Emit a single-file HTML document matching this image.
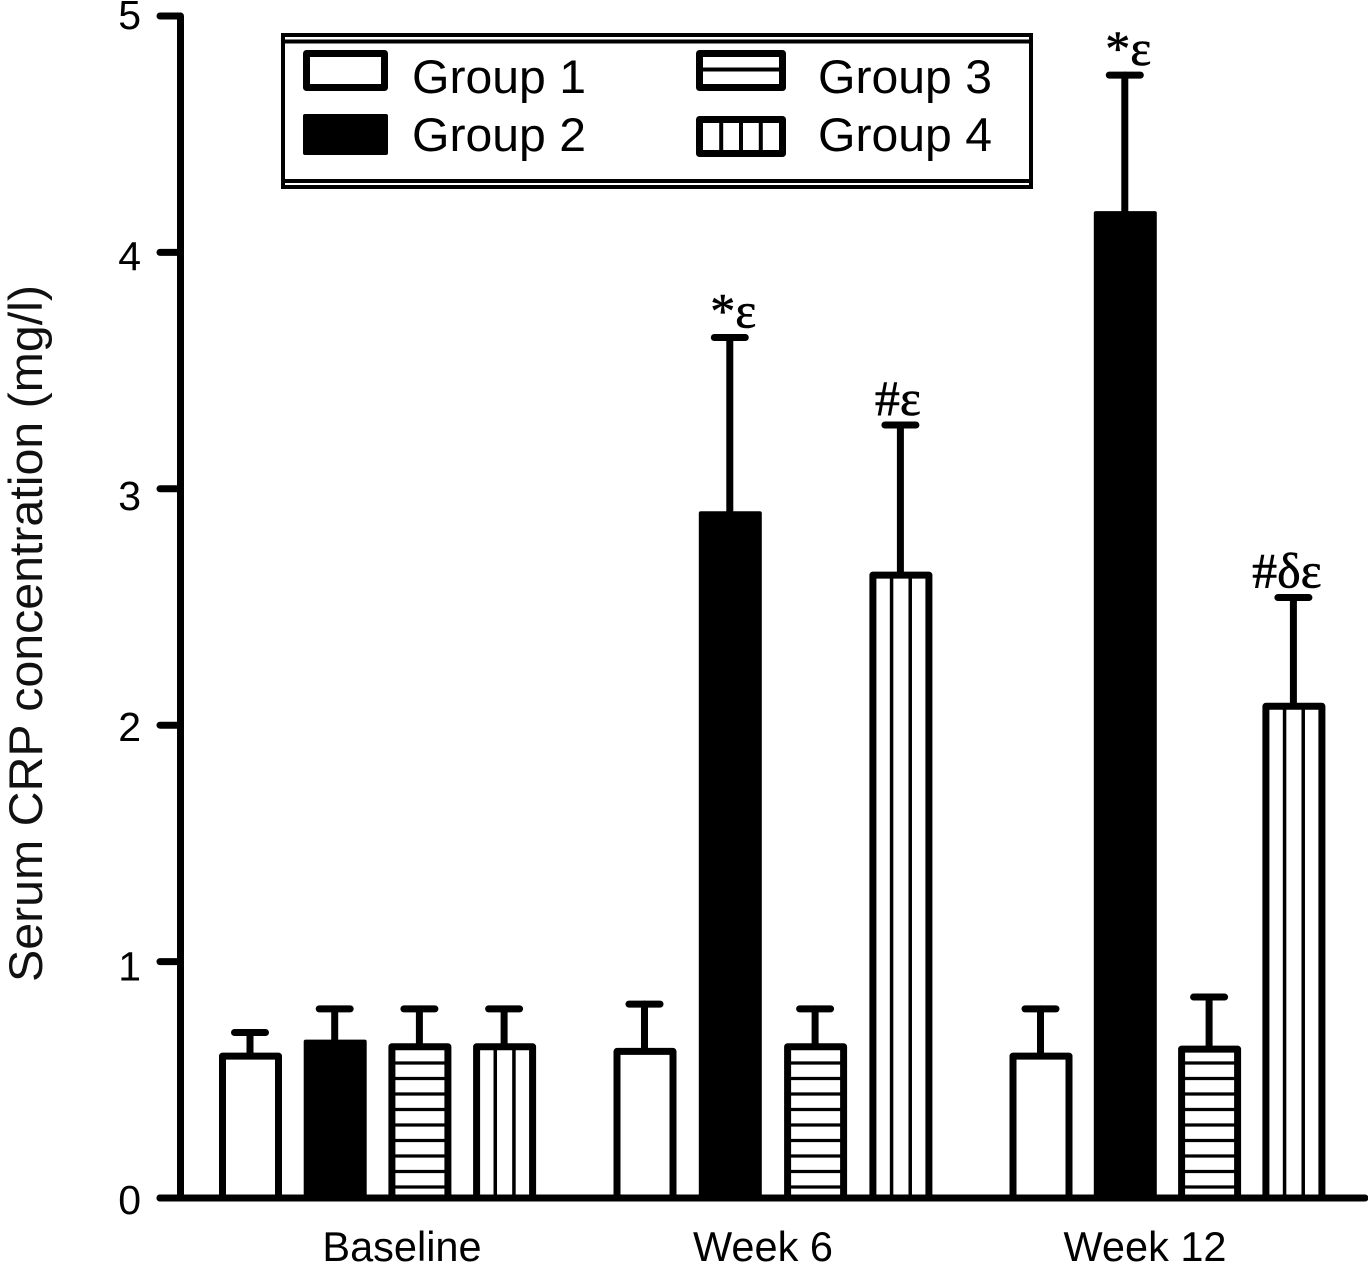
<!DOCTYPE html>
<html lang="en">
<head>
<meta charset="utf-8">
<title>Serum CRP concentration</title>
<style>
html,body{margin:0;padding:0;background:#fff;width:1368px;height:1270px;overflow:hidden}
svg{display:block;font-family:"Liberation Sans",sans-serif;fill:#111}
</style>
</head>
<body>
<svg id="chart" xmlns="http://www.w3.org/2000/svg" width="1368" height="1270" viewBox="0 0 1368 1270">
<rect x="0" y="0" width="1368" height="1270" fill="#fff"/>
<text transform="translate(42,982) rotate(-90)" font-size="47" textLength="697" lengthAdjust="spacingAndGlyphs">Serum CRP concentration (mg/l)</text>
<g id="plot"></g>
<g id="legend"></g>
</svg>
<script>
var timepoints = ['Baseline', 'Week 6', 'Week 12'];
var groups = ['Group 1', 'Group 2', 'Group 3', 'Group 4'];
var yTicks = [0, 1, 2, 3, 4, 5];
var group1Means = [0.60, 0.62, 0.60];
var group2Means = [0.655, 2.89, 4.16];
var group3Means = [0.64, 0.64, 0.63];
var group4Means = [0.64, 2.635, 2.08];
var group1Upper = [0.70, 0.82, 0.80];
var group2Upper = [0.80, 3.64, 4.75];
var group3Upper = [0.80, 0.80, 0.85];
var group4Upper = [0.80, 3.27, 2.54];
var group2Notes = ['', '*\u03B5', '*\u03B5'];
var group4Notes = ['', '#\u03B5', '#\u03B4\u03B5'];

var NS = 'http://www.w3.org/2000/svg';
var plot = document.getElementById('plot');
var legend = document.getElementById('legend');

function yScale(v) { return 1198 - v * 236.4; }
function xScale(t, g) { return [250.5, 645, 1041][t] + g * [84.7, 85.3, 84.3][t]; }

function make(parent, tag, attrs, text) {
  var el = document.createElementNS(NS, tag);
  for (var k in attrs) el.setAttribute(k, attrs[k]);
  if (text !== undefined) el.textContent = text;
  parent.appendChild(el);
  return el;
}
function line(parent, x1, y1, x2, y2, w) {
  return make(parent, 'line', {x1: x1, y1: y1, x2: x2, y2: y2, stroke: '#000', 'stroke-width': w, 'stroke-linecap': 'round'});
}
function tickLabelDrop(tick) {
  return [16, 19, 16, 21, 18, 13][tick] || 16;
}

var yAxis = make(plot, 'g', {});


line(yAxis, 180.5, yScale(5), 180.5, yScale(0), 7);
yTicks.forEach(function (tick) {
  var y = yScale(tick);
  var tickLine = line(yAxis, 160, y, 180, y, 7);
  
  
  var tickLabel = make(yAxis, 'text', {x: 141, y: y + tickLabelDrop(tick), 'text-anchor': 'end', 'font-size': 41, fill: '#000'}, String(tick));
  
  
});

function drawBar(parent, cx, top, bottom, halfW, kind) {
  var inset = 3.5;
  var x0 = cx - halfW + inset, x1 = cx + halfW - inset;
  if (kind === 1) {
    make(parent, 'rect', {x: cx - halfW, y: top - 3.5, width: halfW * 2, height: bottom - top + 3.5, fill: '#000', rx: 2});
    return;
  }
  make(parent, 'rect', {x: x0, y: top, width: x1 - x0, height: bottom - top, fill: '#fff', stroke: '#000', 'stroke-width': 7, 'stroke-linejoin': 'round'});
  if (kind === 2) {
    for (var y = bottom - 11; y > top + 6; y -= 15.5) {
      make(parent, 'line', {x1: x0, y1: y, x2: x1, y2: y, stroke: '#000', 'stroke-width': 3.2});
    }
  }
  if (kind === 3) {
    [1 / 3, 2 / 3].forEach(function (f) {
      var x = x0 + (x1 - x0) * f;
      make(parent, 'line', {x1: x, y1: top, x2: x, y2: bottom, stroke: '#000', 'stroke-width': 3.5});
    });
  }
}

var means = [group1Means, group2Means, group3Means, group4Means];
var uppers = [group1Upper, group2Upper, group3Upper, group4Upper];
var barKeys = ['group-1', 'group-2', 'group-3', 'group-4'];
var timeKeys = ['baseline', 'week-6', 'week-12'];

timepoints.forEach(function (tp, t) {
  groups.forEach(function (gName, g) {
    var cx = xScale(t, g);
    var group = make(plot, 'g', {});
    
    
    var top = yScale(means[g][t]);
    var upper = yScale(uppers[g][t]);
    line(group, cx - 0.5, upper, cx - 0.5, top, 7);
    line(group, cx - 16, upper, cx + 15, upper, 7);
    drawBar(group, cx, top, 1198, 31.5, g);
  });
  var catLabel = make(plot, 'text', {x: [402, 763, 1145][t], y: 1261, 'text-anchor': 'middle', 'font-size': 41.5, fill: '#000'}, tp);
  
  
});

var xAxis = line(plot, 160, 1198, 1365, 1198, 7);



[[1, group2Notes], [3, group4Notes]].forEach(function (pair) {
  var g = pair[0];
  pair[1].forEach(function (note, t) {
    if (!note) return;
    var shift = note.length > 2 ? -7 : (note.charAt(0) === '#' ? -3 : 3);
    var label = make(plot, 'text', {
      x: xScale(t, g) + shift,
      y: yScale(uppers[g][t]) - 10,
      'text-anchor': 'middle',
      'font-size': 50,
      'font-family': '"Liberation Serif",serif',
      fill: '#000',
      stroke: '#000',
      'stroke-width': 0.6
    }, note);
    
    
  });
});

make(legend, 'rect', {x: 283, y: 35, width: 748, height: 152, fill: '#fff', stroke: '#000', 'stroke-width': 4});
make(legend, 'line', {x1: 282, y1: 41.5, x2: 1032, y2: 41.5, stroke: '#000', 'stroke-width': 4});
make(legend, 'line', {x1: 282, y1: 181, x2: 1032, y2: 181, stroke: '#000', 'stroke-width': 4});

function legendSwatch(kind, x0, y0, x1, y1) {
  var s = make(legend, 'g', {});
  
  
  if (kind === 1) {
    make(s, 'rect', {x: x0, y: y0, width: x1 - x0, height: y1 - y0, fill: '#000', rx: 2});
    return;
  }
  make(s, 'rect', {x: x0 + 3.5, y: y0 + 3.5, width: x1 - x0 - 7, height: y1 - y0 - 7, fill: '#fff', stroke: '#000', 'stroke-width': 7, 'stroke-linejoin': 'round'});
  if (kind === 2) {
    make(s, 'line', {x1: x0, y1: (y0 + y1) / 2 - 1, x2: x1, y2: (y0 + y1) / 2 - 1, stroke: '#000', 'stroke-width': 4});
  }
  if (kind === 3) {
    [0.28, 0.5, 0.72].forEach(function (f) {
      var x = x0 + (x1 - x0) * f;
      make(s, 'line', {x1: x, y1: y0, x2: x, y2: y1, stroke: '#000', 'stroke-width': 4});
    });
  }
}

groups.forEach(function (name, g) {
  var col = g > 1 ? 1 : 0;
  var row = g % 2;
  var sx = col ? 696 : 303;
  var sy = [50, 114][row] + (col && row ? 2 : 0);
  legendSwatch(g, sx, sy, sx + (col ? 90 : 85), sy + 41);
  var label = make(legend, 'text', {x: col ? 818 : 412, y: [93, 151][row], 'font-size': 47, textLength: 174, lengthAdjust: 'spacingAndGlyphs', fill: '#000'}, name);
  
  
});
</script>
</body>
</html>
